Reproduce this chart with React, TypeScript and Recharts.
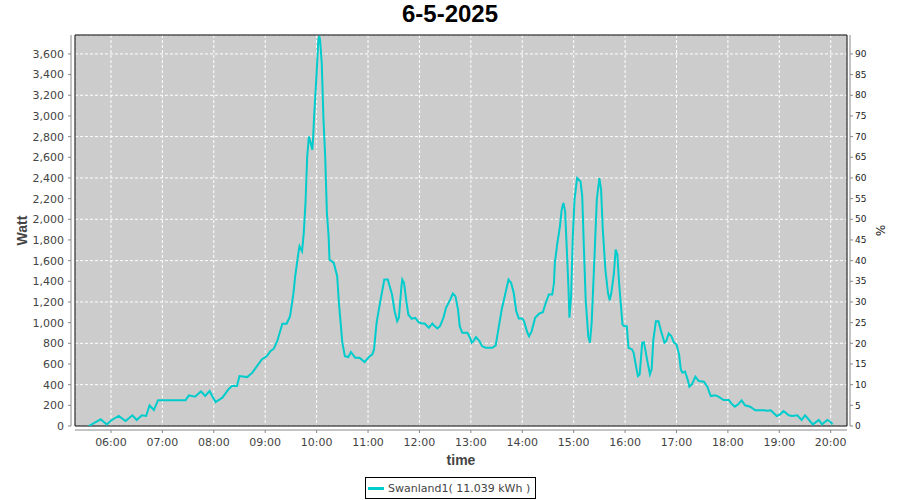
import {
    CartesianGrid,
    Line,
    LineChart,
    ReferenceArea,
    XAxis,
    YAxis,
} from 'recharts'

// minutes since midnight
const times = [
    334, 348, 355, 361, 369, 377, 385, 390, 396, 401,
    405, 410, 415, 420, 447, 451, 458, 465, 470, 475,
    482, 490, 497, 501, 507, 510, 519, 525, 530, 536,
    542, 546, 550, 554, 560, 565, 569, 573, 575, 579,
    580, 583, 585, 587, 589, 591, 593, 595, 596, 597,
    600, 602, 603, 604, 606, 608, 610, 612, 614, 615,
    620, 624, 626, 628, 630, 633, 637, 640, 645, 650,
    656, 661, 665, 667, 670, 674, 679, 683, 688, 691,
    694, 696, 699, 700, 702, 705, 707, 711, 715, 719,
    723, 726, 731, 735, 737, 741, 744, 748, 751, 756,
    759, 762, 765, 767, 770, 776, 779, 781, 783, 786,
    790, 793, 797, 805, 809, 812, 816, 820, 824, 827,
    830, 833, 836, 840, 842, 846, 848, 851, 855, 860,
    864, 867, 871, 875, 877, 878, 881, 884, 886, 888,
    890, 892, 894, 895, 897, 899, 901, 904, 908, 910,
    912, 914, 917, 919, 921, 924, 927, 930, 932, 934,
    937, 940, 942, 944, 947, 949, 951, 953, 955, 957,
    959, 962, 964, 968, 970, 972, 975, 977, 980, 982,
    986, 989, 991, 993, 996, 999, 1002, 1006, 1008, 1011,
    1014, 1017, 1020, 1023, 1025, 1027, 1030, 1033, 1035, 1038,
    1042, 1046, 1052, 1056, 1060, 1065, 1069, 1075, 1081, 1084,
    1088, 1092, 1096, 1100, 1106, 1112, 1122, 1126, 1130, 1137,
    1141, 1145, 1151, 1155, 1161, 1166, 1170, 1174, 1179, 1182,
    1186, 1190, 1196, 1200, 1202,
]

const watts = [
    0, 65, 15, 58, 97, 48, 103, 58, 103, 97,
    200, 155, 250, 250, 250, 297, 284, 335, 290, 338,
    232, 274, 354, 386, 386, 483, 473, 516, 574, 644,
    676, 724, 748, 820, 989, 989, 1063, 1289, 1449, 1690,
    1739, 1690, 1868, 2158, 2608, 2801, 2738, 2673, 2801, 2979,
    3414, 3735, 3774, 3735, 3510, 2963, 2608, 2061, 1835, 1610,
    1578, 1449, 1192, 999, 806, 676, 667, 715, 661, 661,
    618, 667, 693, 741, 999, 1192, 1417, 1417, 1272, 1111,
    1014, 1047, 1352, 1417, 1385, 1192, 1079, 1037, 1047, 1005,
    992, 992, 950, 992, 973, 944, 966, 1047, 1144, 1224,
    1282, 1256, 1127, 966, 902, 902, 854, 806, 821, 860,
    821, 773, 757, 757, 780, 930, 1127, 1272, 1417, 1385,
    1289, 1111, 1040, 1040, 1014, 902, 869, 918, 1047, 1089,
    1100, 1180, 1272, 1272, 1385, 1578, 1772, 1932, 2093, 2158,
    2077, 1707, 1321, 1047, 1256, 1835, 2190, 2399, 2367, 2222,
    1707, 1224, 869, 806, 999, 1578, 2190, 2399, 2287, 1900,
    1514, 1289, 1217, 1289, 1482, 1707, 1659, 1385, 1180, 982,
    966, 966, 757, 741, 709, 612, 483, 499, 806, 811,
    628, 499, 548, 837, 1014, 1014, 918, 806, 821, 895,
    869, 806, 789, 693, 548, 516, 526, 451, 381, 403,
    477, 435, 429, 381, 290, 297, 284, 251, 251, 219,
    187, 210, 248, 200, 187, 152, 152, 148, 152, 97,
    113, 145, 103, 97, 103, 58, 103, 65, 16, 33,
    58, 16, 58, 39, 16,
]

const hourTicks = [360, 420, 480, 540, 600, 660, 720, 780, 840, 900, 960, 1020, 1080, 1140, 1200]
const wattTicks = [0, 200, 400, 600, 800, 1000, 1200, 1400, 1600, 1800, 2000, 2200, 2400, 2600, 2800, 3000, 3200, 3400, 3600]
const pctTicks = [0, 5, 10, 15, 20, 25, 30, 35, 40, 45, 50, 55, 60, 65, 70, 75, 80, 85, 90]

const title = '6-5-2025'
const seriesName = 'Swanland1( 11.039 kWh )'

const X_MIN = 318
const X_MAX = 1219
const W_MAX = 3783

const FONT = '"DejaVu Sans", sans-serif'
const LABEL_FONT = '"Liberation Sans", Arial, sans-serif'
const lineColor = '#00cccc'
const axisColor = '#888888'

const tick = { fill: '#444', fontSize: 11, fontFamily: FONT }

function hhmm(m: number) {
    const h = Math.floor(m / 60)
    const mm = m % 60
    return `${String(h).padStart(2, '0')}:${String(mm).padStart(2, '0')}`
}

const fmtWatt = (v: number) => v.toLocaleString('en-US')

export default function App() {
    const data = times.map((t, i) => ({ t, w: watts[i] }))

    return (
        <div
            style={{
                position: 'absolute',
                left: 0,
                top: 0,
                width: 900,
                height: 500,
                background: '#fff',
            }}
        >
            <div
                style={{
                    position: 'absolute',
                    left: 0,
                    top: 0,
                    width: 900,
                    textAlign: 'center',
                    font: `bold 24px ${LABEL_FONT}`,
                    lineHeight: '28px',
                    color: '#000',
                }}
            >
                {title}
            </div>
            <LineChart
                width={900}
                height={500}
                data={data}
                margin={{ top: 35, right: 0, bottom: 0, left: 0 }}
            >
                <CartesianGrid
                    yAxisId="w"
                    fill="#cccccc"
                    stroke="#ffffff"
                    strokeDasharray="3 2"
                />
                <XAxis
                    type="number"
                    dataKey="t"
                    domain={[X_MIN, X_MAX]}
                    ticks={hourTicks}
                    tickFormatter={hhmm}
                    allowDataOverflow
                    height={74}
                    tick={tick}
                    tickSize={3}
                    tickMargin={9}
                    axisLine={{ stroke: axisColor, transform: 'translate(0,4)' }}
                    tickLine={{ stroke: axisColor, transform: 'translate(0,4)' }}
                    label={{
                        value: 'time',
                        position: 'insideBottom',
                        offset: 35,
                        style: {
                            fill: '#444',
                            fontSize: 14,
                            fontWeight: 'bold',
                            fontFamily: LABEL_FONT,
                        },
                    }}
                />
                <YAxis
                    yAxisId="w"
                    type="number"
                    domain={[0, W_MAX]}
                    ticks={wattTicks}
                    tickFormatter={fmtWatt}
                    allowDataOverflow
                    width={75}
                    tick={tick}
                    tickSize={3}
                    tickMargin={8}
                    axisLine={{ stroke: axisColor, transform: 'translate(-4,0)' }}
                    tickLine={{ stroke: axisColor, transform: 'translate(-4,0)' }}
                    label={{
                        value: 'Watt',
                        angle: -90,
                        position: 'insideLeft',
                        offset: 22,
                        style: {
                            textAnchor: 'middle',
                            fill: '#444',
                            fontSize: 14,
                            fontWeight: 'bold',
                            fontFamily: LABEL_FONT,
                        },
                    }}
                />
                <YAxis
                    yAxisId="pct"
                    orientation="right"
                    type="number"
                    domain={[0, W_MAX / 40]}
                    ticks={pctTicks}
                    allowDataOverflow
                    width={53}
                    tick={{ fill: '#222', fontSize: 9, fontFamily: FONT }}
                    tickSize={3}
                    tickMargin={5}
                    axisLine={{ stroke: axisColor, transform: 'translate(3,0)' }}
                    tickLine={{ stroke: axisColor, transform: 'translate(3,0)' }}
                    label={{
                        value: '%',
                        angle: 90,
                        position: 'insideRight',
                        offset: 20,
                        style: {
                            textAnchor: 'middle',
                            fill: '#222',
                            fontSize: 12,
                            fontFamily: FONT,
                        },
                    }}
                />
                <ReferenceArea
                    yAxisId="w"
                    x1={X_MIN}
                    x2={X_MAX}
                    y1={0}
                    y2={W_MAX}
                    fill="none"
                    stroke="#000"
                    strokeWidth={1}
                    fillOpacity={0}
                />
                <Line
                    yAxisId="w"
                    type="linear"
                    dataKey="w"
                    stroke={lineColor}
                    strokeWidth={2}
                    dot={false}
                    isAnimationActive={false}
                />
            </LineChart>
            <div
                style={{
                    position: 'absolute',
                    left: 365,
                    top: 477,
                    width: 171,
                    height: 22,
                    boxSizing: 'border-box',
                    border: '1px solid #000',
                    background: '#fff',
                    fontFamily: FONT,
                    fontSize: 11,
                    color: '#444',
                    display: 'flex',
                    alignItems: 'center',
                    whiteSpace: 'nowrap',
                }}
            >
                <span
                    style={{
                        display: 'inline-block',
                        width: 16,
                        height: 3,
                        background: lineColor,
                        marginLeft: 2,
                        marginRight: 4,
                    }}
                />
                <span>{seriesName}</span>
            </div>
        </div>
    )
}
